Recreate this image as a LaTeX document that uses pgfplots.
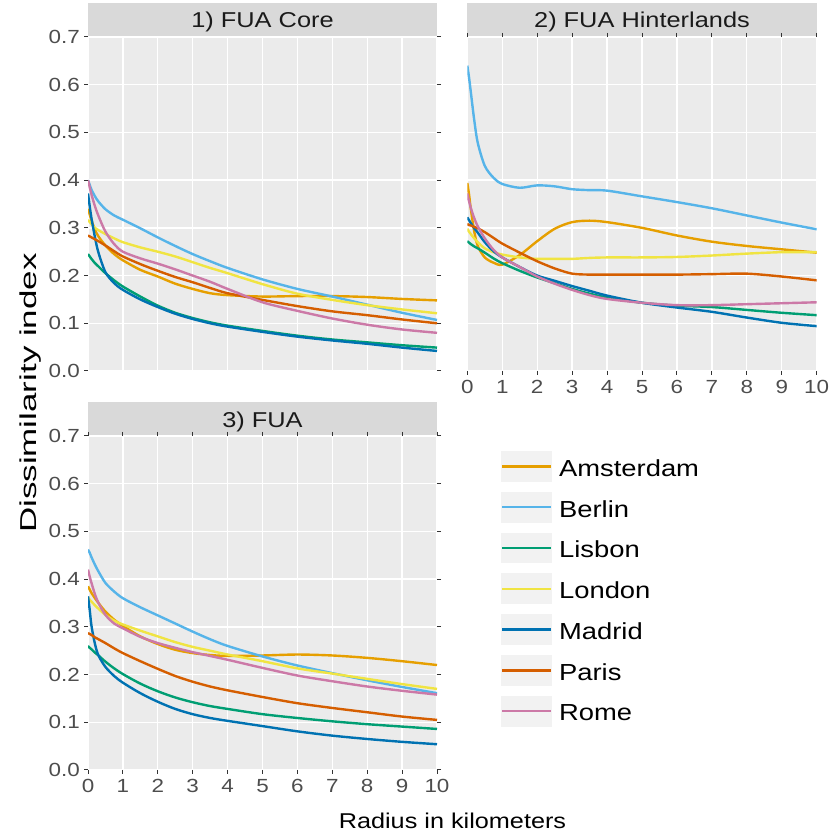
\documentclass[border=0pt]{standalone}
\usepackage{fontspec}
\setmainfont{Liberation Sans}[FakeStretch=1.18]
\newfontfamily\ytitlefont{Liberation Sans}[FakeStretch=1.52]
\usepackage{pgfplots}
\usepackage{pgfplotstable}
\pgfplotsset{compat=1.18}

\definecolor{cAms}{HTML}{E69F00}
\definecolor{cBer}{HTML}{56B4E9}
\definecolor{cLis}{HTML}{009E73}
\definecolor{cLon}{HTML}{F0E442}
\definecolor{cMad}{HTML}{0072B2}
\definecolor{cPar}{HTML}{D55E00}
\definecolor{cRom}{HTML}{CC79A7}
\definecolor{panelbg}{HTML}{EBEBEB}
\definecolor{stripbg}{HTML}{D9D9D9}
\definecolor{keybg}{HTML}{F2F2F2}
\definecolor{ticklab}{HTML}{4D4D4D}
\definecolor{tickcol}{HTML}{333333}
\definecolor{striptext}{HTML}{1A1A1A}

\newcommand\ticklabfont{\fontsize{19}{19}\selectfont}
\newcommand\stripfont{\fontsize{21.5}{21.5}\selectfont}
\newcommand\titlefont{\fontsize{21.4}{21.4}\selectfont}
\newcommand\legendfont{\fontsize{23.2}{23.2}\selectfont}

% x Amsterdam Berlin Lisbon London Madrid Paris Rome
\pgfplotstableread{
x     ams   ber   lis   lon   mad   par   rom
0     0.340 0.400 0.245 0.317 0.372 0.284 0.400
0.05  0.328 0.390 0.240 0.312 0.345 0.282 0.385
0.1   0.316 0.380 0.235 0.308 0.320 0.280 0.370
0.2   0.296 0.366 0.226 0.300 0.280 0.276 0.345
0.3   0.282 0.355 0.219 0.295 0.248 0.272 0.325
0.5   0.263 0.339 0.205 0.287 0.207 0.263 0.292
0.75  0.245 0.326 0.190 0.278 0.184 0.251 0.266
1     0.232 0.317 0.177 0.270 0.170 0.240 0.250
1.5   0.212 0.299 0.156 0.259 0.150 0.224 0.236
2     0.198 0.280 0.137 0.250 0.134 0.210 0.225
2.5   0.183 0.262 0.122 0.240 0.120 0.197 0.213
3     0.172 0.245 0.111 0.228 0.109 0.186 0.200
3.5   0.163 0.230 0.102 0.216 0.100 0.174 0.187
4     0.159 0.216 0.095 0.205 0.093 0.163 0.172
5     0.156 0.192 0.084 0.182 0.082 0.149 0.144
6     0.157 0.172 0.074 0.162 0.072 0.136 0.126
7     0.157 0.156 0.066 0.149 0.064 0.125 0.110
8     0.155 0.139 0.060 0.138 0.057 0.117 0.097
9     0.151 0.122 0.054 0.129 0.049 0.108 0.087
10    0.148 0.107 0.049 0.121 0.042 0.100 0.080
}\coreT

\pgfplotstableread{
x     ams   ber   lis   lon   mad   par   rom
0     0.394 0.640 0.272 0.298 0.322 0.308 0.372
0.05  0.370 0.615 0.269 0.292 0.316 0.306 0.356
0.1   0.340 0.585 0.266 0.287 0.310 0.305 0.342
0.2   0.292 0.525 0.261 0.278 0.299 0.302 0.320
0.3   0.262 0.478 0.257 0.270 0.290 0.299 0.303
0.5   0.238 0.430 0.248 0.257 0.270 0.291 0.278
0.75  0.227 0.405 0.236 0.249 0.251 0.279 0.254
1     0.223 0.392 0.226 0.244 0.238 0.267 0.238
1.5   0.243 0.384 0.210 0.238 0.218 0.248 0.218
2     0.272 0.389 0.196 0.235 0.200 0.230 0.198
2.5   0.298 0.387 0.184 0.235 0.189 0.215 0.183
3     0.312 0.381 0.172 0.235 0.178 0.204 0.170
3.5   0.315 0.379 0.162 0.237 0.168 0.202 0.159
4     0.312 0.378 0.154 0.238 0.158 0.202 0.151
5     0.300 0.366 0.143 0.238 0.143 0.202 0.143
6     0.284 0.354 0.137 0.239 0.133 0.202 0.138
7     0.271 0.341 0.134 0.242 0.124 0.203 0.138
8     0.262 0.326 0.128 0.246 0.112 0.204 0.140
9     0.255 0.311 0.122 0.249 0.101 0.198 0.142
10    0.248 0.297 0.117 0.249 0.094 0.190 0.144
}\hintT

\pgfplotstableread{
x     ams   ber   lis   lon   mad   par   rom
0     0.385 0.462 0.260 0.362 0.364 0.287 0.420
0.05  0.378 0.455 0.256 0.357 0.335 0.285 0.405
0.1   0.371 0.446 0.253 0.353 0.302 0.283 0.392
0.2   0.360 0.430 0.246 0.345 0.264 0.278 0.368
0.3   0.350 0.416 0.240 0.338 0.240 0.274 0.350
0.5   0.332 0.392 0.227 0.325 0.216 0.266 0.325
0.75  0.315 0.374 0.213 0.313 0.197 0.255 0.307
1     0.302 0.360 0.201 0.305 0.183 0.245 0.297
1.5   0.280 0.341 0.181 0.292 0.161 0.228 0.279
2     0.264 0.324 0.165 0.280 0.143 0.212 0.266
2.5   0.252 0.307 0.152 0.268 0.128 0.197 0.256
3     0.245 0.290 0.142 0.258 0.117 0.185 0.247
3.5   0.241 0.274 0.134 0.250 0.109 0.175 0.239
4     0.239 0.260 0.128 0.242 0.103 0.167 0.231
5     0.240 0.238 0.117 0.228 0.092 0.153 0.214
6     0.242 0.219 0.109 0.213 0.081 0.140 0.198
7     0.240 0.203 0.102 0.202 0.072 0.130 0.186
8     0.235 0.188 0.096 0.191 0.065 0.121 0.175
9     0.228 0.174 0.091 0.180 0.059 0.112 0.166
10    0.220 0.161 0.086 0.170 0.054 0.105 0.158
}\fuaT

\pgfplotsset{
  panel/.style={
    scale only axis, width=349pt, height=334pt, anchor=south west,
    xmin=0, xmax=10, ymin=0, ymax=0.7,
    xtick={0,1,2,3,4,5,6,7,8,9,10},
    ytick={0,0.1,0.2,0.3,0.4,0.5,0.6,0.7},
    grid=major, major grid style={white, line width=1.3pt},
    axis background/.style={fill=panelbg},
    axis line style={draw=none},
    tick align=outside, major tick length=4pt,
    tick style={tickcol, line width=1pt},
    /pgf/number format/assume math mode=true,
    tick label style={font=\ticklabfont, text=ticklab},
    yticklabel style={anchor=east, inner sep=0pt, xshift=-4pt},
    xticklabel style={anchor=north, inner sep=0pt, yshift=-5pt},
    every axis plot/.append style={line width=2.4pt, smooth, tension=0.5, no marks},
    yticklabel style={/pgf/number format/.cd, fixed, fixed zerofill, precision=1},
  },
}

\begin{document}
\begin{tikzpicture}
\path[use as bounding box] (0pt,0pt) rectangle (829pt,836pt);

% strips
\fill[stripbg] (88pt,799pt) rectangle (437pt,832.5pt);
\fill[stripbg] (467.3pt,799pt) rectangle (816.7pt,832.5pt);
\fill[stripbg] (88pt,400pt) rectangle (437pt,433.5pt);
\node[anchor=base, inner sep=0pt, text=striptext, font=\stripfont] at (262.5pt,808.5pt) {1) FUA Core};
\node[anchor=base, inner sep=0pt, text=striptext, font=\stripfont] at (642pt,808.5pt) {2) FUA Hinterlands};
\node[anchor=base, inner sep=0pt, text=striptext, font=\stripfont] at (262.5pt,408.3pt) {3) FUA};

% Panel 1
\begin{axis}[panel, at={(88pt,465pt)}, xticklabels={}, x tick style={draw=none}]
\addplot[cAms] table[x=x,y=ams]{\coreT};
\addplot[cBer] table[x=x,y=ber]{\coreT};
\addplot[cLis] table[x=x,y=lis]{\coreT};
\addplot[cLon] table[x=x,y=lon]{\coreT};
\addplot[cMad] table[x=x,y=mad]{\coreT};
\addplot[cPar] table[x=x,y=par]{\coreT};
\addplot[cRom] table[x=x,y=rom]{\coreT};
\end{axis}

% Panel 2
\begin{axis}[panel, at={(467.3pt,465pt)}, width=349.4pt, yticklabels={}, y tick style={draw=none}]
\addplot[cAms] table[x=x,y=ams]{\hintT};
\addplot[cBer] table[x=x,y=ber]{\hintT};
\addplot[cLis] table[x=x,y=lis]{\hintT};
\addplot[cLon] table[x=x,y=lon]{\hintT};
\addplot[cMad] table[x=x,y=mad]{\hintT};
\addplot[cPar] table[x=x,y=par]{\hintT};
\addplot[cRom] table[x=x,y=rom]{\hintT};
\end{axis}

% Panel 3 with legend
\begin{axis}[panel, at={(88pt,66pt)},
  legend cell align=left,
  legend style={at={(1.18338,0.95509)}, anchor=north west, draw=none, fill=none,
    inner sep=0pt, outer sep=0pt, row sep=9.9pt, column sep=0pt,
    font=\legendfont, text=black,
    nodes={inner xsep=6.7pt, inner ysep=0pt, text depth=0pt, yshift=-1.5pt},
    cells={anchor=west}},
  legend image code/.code={
    \fill[keybg] (0pt,-14.25pt) rectangle (49pt,14.25pt);
    \draw[line width=2.4pt] (0pt,0pt) -- (49pt,0pt);
  }]
\addplot[cAms] table[x=x,y=ams]{\fuaT}; \addlegendentry{Amsterdam}
\addplot[cBer] table[x=x,y=ber]{\fuaT}; \addlegendentry{Berlin}
\addplot[cLis] table[x=x,y=lis]{\fuaT}; \addlegendentry{Lisbon}
\addplot[cLon] table[x=x,y=lon]{\fuaT}; \addlegendentry{London}
\addplot[cMad] table[x=x,y=mad]{\fuaT}; \addlegendentry{Madrid}
\addplot[cPar] table[x=x,y=par]{\fuaT}; \addlegendentry{Paris}
\addplot[cRom] table[x=x,y=rom]{\fuaT}; \addlegendentry{Rome}
\end{axis}

% axis titles
\node[anchor=base, inner sep=0pt, font=\titlefont] at (452.5pt,8pt) {Radius in kilometers};
\node[rotate=90, anchor=base, inner sep=0pt, font=\fontsize{23}{23}\selectfont] at (36.7pt,443pt) {\ytitlefont Dissimilarity index};
\end{tikzpicture}
\end{document}
